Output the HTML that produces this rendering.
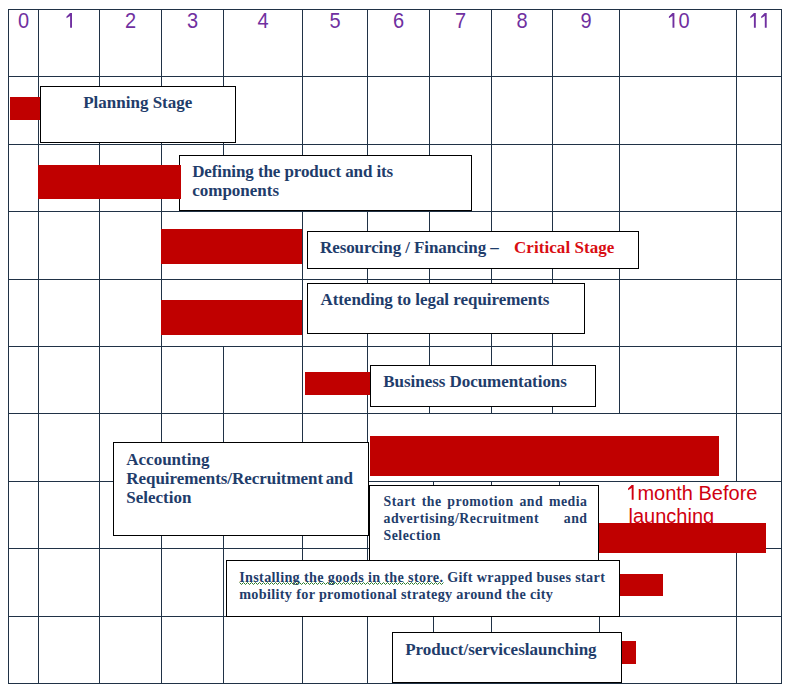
<!DOCTYPE html>
<html><head><meta charset="utf-8"><style>
html,body{margin:0;padding:0;background:#fff;}
body{width:789px;height:691px;position:relative;overflow:hidden;}
div{position:absolute;}
.bx{border:1px solid #000;background:#fff;}
.t{white-space:nowrap;}
.dg{width:60px;text-align:center;font-family:"Liberation Sans",sans-serif;font-size:20px;line-height:20px;color:#7030a0;transform:scaleY(1.07);transform-origin:50% 16.93px;}
.sq{text-decoration:underline wavy #3a9a3a;text-decoration-thickness:1px;text-underline-offset:2px;}
</style></head><body>
<div style="left:8px;top:9px;width:774px;height:1px;background:#203246;"></div>
<div style="left:8px;top:76px;width:774px;height:1px;background:#203246;"></div>
<div style="left:8px;top:144px;width:774px;height:1px;background:#203246;"></div>
<div style="left:8px;top:211px;width:774px;height:1px;background:#203246;"></div>
<div style="left:8px;top:279px;width:774px;height:1px;background:#203246;"></div>
<div style="left:8px;top:346px;width:774px;height:1px;background:#203246;"></div>
<div style="left:8px;top:413px;width:774px;height:1px;background:#203246;"></div>
<div style="left:8px;top:481px;width:774px;height:1px;background:#203246;"></div>
<div style="left:8px;top:548px;width:774px;height:1px;background:#203246;"></div>
<div style="left:8px;top:616px;width:774px;height:1px;background:#203246;"></div>
<div style="left:8px;top:683px;width:774px;height:1px;background:#203246;"></div>
<div style="left:8px;top:9px;width:1px;height:68px;background:#203246;"></div>
<div style="left:38px;top:9px;width:1px;height:68px;background:#203246;"></div>
<div style="left:99px;top:9px;width:1px;height:68px;background:#203246;"></div>
<div style="left:161px;top:9px;width:1px;height:68px;background:#203246;"></div>
<div style="left:223px;top:9px;width:1px;height:68px;background:#203246;"></div>
<div style="left:302px;top:9px;width:1px;height:68px;background:#203246;"></div>
<div style="left:367px;top:9px;width:1px;height:68px;background:#203246;"></div>
<div style="left:429px;top:9px;width:1px;height:68px;background:#203246;"></div>
<div style="left:491px;top:9px;width:1px;height:68px;background:#203246;"></div>
<div style="left:552px;top:9px;width:1px;height:68px;background:#203246;"></div>
<div style="left:619px;top:9px;width:1px;height:68px;background:#203246;"></div>
<div style="left:736px;top:9px;width:1px;height:68px;background:#203246;"></div>
<div style="left:781px;top:9px;width:1px;height:68px;background:#203246;"></div>
<div style="left:8px;top:76px;width:1px;height:69px;background:#203246;"></div>
<div style="left:38px;top:76px;width:1px;height:69px;background:#203246;"></div>
<div style="left:99px;top:76px;width:1px;height:69px;background:#203246;"></div>
<div style="left:161px;top:76px;width:1px;height:69px;background:#203246;"></div>
<div style="left:223px;top:76px;width:1px;height:69px;background:#203246;"></div>
<div style="left:302px;top:76px;width:1px;height:69px;background:#203246;"></div>
<div style="left:367px;top:76px;width:1px;height:69px;background:#203246;"></div>
<div style="left:429px;top:76px;width:1px;height:69px;background:#203246;"></div>
<div style="left:491px;top:76px;width:1px;height:69px;background:#203246;"></div>
<div style="left:552px;top:76px;width:1px;height:69px;background:#203246;"></div>
<div style="left:619px;top:76px;width:1px;height:69px;background:#203246;"></div>
<div style="left:736px;top:76px;width:1px;height:69px;background:#203246;"></div>
<div style="left:781px;top:76px;width:1px;height:69px;background:#203246;"></div>
<div style="left:8px;top:144px;width:1px;height:68px;background:#203246;"></div>
<div style="left:38px;top:144px;width:1px;height:68px;background:#203246;"></div>
<div style="left:99px;top:144px;width:1px;height:68px;background:#203246;"></div>
<div style="left:161px;top:144px;width:1px;height:68px;background:#203246;"></div>
<div style="left:223px;top:144px;width:1px;height:68px;background:#203246;"></div>
<div style="left:302px;top:144px;width:1px;height:68px;background:#203246;"></div>
<div style="left:367px;top:144px;width:1px;height:68px;background:#203246;"></div>
<div style="left:429px;top:144px;width:1px;height:68px;background:#203246;"></div>
<div style="left:491px;top:144px;width:1px;height:68px;background:#203246;"></div>
<div style="left:552px;top:144px;width:1px;height:68px;background:#203246;"></div>
<div style="left:619px;top:144px;width:1px;height:68px;background:#203246;"></div>
<div style="left:736px;top:144px;width:1px;height:68px;background:#203246;"></div>
<div style="left:781px;top:144px;width:1px;height:68px;background:#203246;"></div>
<div style="left:8px;top:211px;width:1px;height:69px;background:#203246;"></div>
<div style="left:38px;top:211px;width:1px;height:69px;background:#203246;"></div>
<div style="left:99px;top:211px;width:1px;height:69px;background:#203246;"></div>
<div style="left:161px;top:211px;width:1px;height:69px;background:#203246;"></div>
<div style="left:302px;top:211px;width:1px;height:69px;background:#203246;"></div>
<div style="left:367px;top:211px;width:1px;height:69px;background:#203246;"></div>
<div style="left:429px;top:211px;width:1px;height:69px;background:#203246;"></div>
<div style="left:491px;top:211px;width:1px;height:69px;background:#203246;"></div>
<div style="left:552px;top:211px;width:1px;height:69px;background:#203246;"></div>
<div style="left:619px;top:211px;width:1px;height:69px;background:#203246;"></div>
<div style="left:736px;top:211px;width:1px;height:69px;background:#203246;"></div>
<div style="left:781px;top:211px;width:1px;height:69px;background:#203246;"></div>
<div style="left:8px;top:279px;width:1px;height:68px;background:#203246;"></div>
<div style="left:38px;top:279px;width:1px;height:68px;background:#203246;"></div>
<div style="left:99px;top:279px;width:1px;height:68px;background:#203246;"></div>
<div style="left:161px;top:279px;width:1px;height:68px;background:#203246;"></div>
<div style="left:302px;top:279px;width:1px;height:68px;background:#203246;"></div>
<div style="left:367px;top:279px;width:1px;height:68px;background:#203246;"></div>
<div style="left:429px;top:279px;width:1px;height:68px;background:#203246;"></div>
<div style="left:491px;top:279px;width:1px;height:68px;background:#203246;"></div>
<div style="left:552px;top:279px;width:1px;height:68px;background:#203246;"></div>
<div style="left:619px;top:279px;width:1px;height:68px;background:#203246;"></div>
<div style="left:736px;top:279px;width:1px;height:68px;background:#203246;"></div>
<div style="left:781px;top:279px;width:1px;height:68px;background:#203246;"></div>
<div style="left:8px;top:346px;width:1px;height:68px;background:#203246;"></div>
<div style="left:38px;top:346px;width:1px;height:68px;background:#203246;"></div>
<div style="left:99px;top:346px;width:1px;height:68px;background:#203246;"></div>
<div style="left:161px;top:346px;width:1px;height:68px;background:#203246;"></div>
<div style="left:223px;top:346px;width:1px;height:68px;background:#203246;"></div>
<div style="left:302px;top:346px;width:1px;height:68px;background:#203246;"></div>
<div style="left:367px;top:346px;width:1px;height:68px;background:#203246;"></div>
<div style="left:429px;top:346px;width:1px;height:68px;background:#203246;"></div>
<div style="left:491px;top:346px;width:1px;height:68px;background:#203246;"></div>
<div style="left:552px;top:346px;width:1px;height:68px;background:#203246;"></div>
<div style="left:619px;top:346px;width:1px;height:68px;background:#203246;"></div>
<div style="left:736px;top:346px;width:1px;height:68px;background:#203246;"></div>
<div style="left:781px;top:346px;width:1px;height:68px;background:#203246;"></div>
<div style="left:8px;top:413px;width:1px;height:69px;background:#203246;"></div>
<div style="left:38px;top:413px;width:1px;height:69px;background:#203246;"></div>
<div style="left:99px;top:413px;width:1px;height:69px;background:#203246;"></div>
<div style="left:161px;top:413px;width:1px;height:69px;background:#203246;"></div>
<div style="left:223px;top:413px;width:1px;height:69px;background:#203246;"></div>
<div style="left:302px;top:413px;width:1px;height:69px;background:#203246;"></div>
<div style="left:367px;top:413px;width:1px;height:69px;background:#203246;"></div>
<div style="left:736px;top:413px;width:1px;height:69px;background:#203246;"></div>
<div style="left:781px;top:413px;width:1px;height:69px;background:#203246;"></div>
<div style="left:8px;top:481px;width:1px;height:68px;background:#203246;"></div>
<div style="left:38px;top:481px;width:1px;height:68px;background:#203246;"></div>
<div style="left:99px;top:481px;width:1px;height:68px;background:#203246;"></div>
<div style="left:161px;top:481px;width:1px;height:68px;background:#203246;"></div>
<div style="left:223px;top:481px;width:1px;height:68px;background:#203246;"></div>
<div style="left:302px;top:481px;width:1px;height:68px;background:#203246;"></div>
<div style="left:367px;top:481px;width:1px;height:68px;background:#203246;"></div>
<div style="left:433px;top:481px;width:1px;height:68px;background:#203246;"></div>
<div style="left:491px;top:481px;width:1px;height:68px;background:#203246;"></div>
<div style="left:559px;top:481px;width:1px;height:68px;background:#203246;"></div>
<div style="left:781px;top:481px;width:1px;height:68px;background:#203246;"></div>
<div style="left:8px;top:548px;width:1px;height:69px;background:#203246;"></div>
<div style="left:38px;top:548px;width:1px;height:69px;background:#203246;"></div>
<div style="left:99px;top:548px;width:1px;height:69px;background:#203246;"></div>
<div style="left:161px;top:548px;width:1px;height:69px;background:#203246;"></div>
<div style="left:223px;top:548px;width:1px;height:69px;background:#203246;"></div>
<div style="left:302px;top:548px;width:1px;height:69px;background:#203246;"></div>
<div style="left:367px;top:548px;width:1px;height:69px;background:#203246;"></div>
<div style="left:736px;top:548px;width:1px;height:69px;background:#203246;"></div>
<div style="left:781px;top:548px;width:1px;height:69px;background:#203246;"></div>
<div style="left:8px;top:616px;width:1px;height:68px;background:#203246;"></div>
<div style="left:38px;top:616px;width:1px;height:68px;background:#203246;"></div>
<div style="left:99px;top:616px;width:1px;height:68px;background:#203246;"></div>
<div style="left:161px;top:616px;width:1px;height:68px;background:#203246;"></div>
<div style="left:223px;top:616px;width:1px;height:68px;background:#203246;"></div>
<div style="left:302px;top:616px;width:1px;height:68px;background:#203246;"></div>
<div style="left:367px;top:616px;width:1px;height:68px;background:#203246;"></div>
<div style="left:433px;top:616px;width:1px;height:68px;background:#203246;"></div>
<div style="left:491px;top:616px;width:1px;height:68px;background:#203246;"></div>
<div style="left:599px;top:616px;width:1px;height:68px;background:#203246;"></div>
<div style="left:736px;top:616px;width:1px;height:68px;background:#203246;"></div>
<div style="left:781px;top:616px;width:1px;height:68px;background:#203246;"></div>
<div class="dg" style="left:-6.5px;top:10.8px;">0</div>
<div class="dg" style="left:100.5px;top:10.8px;">2</div>
<div class="dg" style="left:162.5px;top:10.8px;">3</div>
<div class="dg" style="left:233.0px;top:10.8px;">4</div>
<div class="dg" style="left:305.0px;top:10.8px;">5</div>
<div class="dg" style="left:368.5px;top:10.8px;">6</div>
<div class="dg" style="left:430.5px;top:10.8px;">7</div>
<div class="dg" style="left:492.0px;top:10.8px;">8</div>
<div class="dg" style="left:556.0px;top:10.8px;">9</div>
<div class="dg" style="left:653.05px;top:10.8px;width:auto;text-align:left;left:678.6px;">0</div>
<svg style="position:absolute;left:0;top:0" width="789" height="40"><path d="M72.00,13 V27.8 H70.10 V15.9 L66.50,18.3 V16.6 L70.00,13 Z M674.40,13 V27.8 H672.50 V15.9 L668.90,18.3 V16.6 L672.40,13 Z M755.80,13 V27.8 H753.90 V15.9 L750.30,18.3 V16.6 L753.80,13 Z M766.70,13 V27.8 H764.80 V15.9 L761.20,18.3 V16.6 L764.70,13 Z" fill="#7030a0"/></svg>
<div style="left:10px;top:97px;width:30px;height:23px;background:#c00000;"></div>
<div class="bx" style="left:40px;top:86px;width:194px;height:55px;"></div>
<div class="bx" style="left:179px;top:155px;width:291px;height:54px;"></div>
<div style="left:38px;top:165px;width:143px;height:34px;background:#c00000;"></div>
<div style="left:161px;top:229px;width:141px;height:35px;background:#c00000;"></div>
<div class="bx" style="left:307px;top:231px;width:330px;height:36px;"></div>
<div style="left:161px;top:300px;width:141px;height:35px;background:#c00000;"></div>
<div class="bx" style="left:307px;top:283px;width:276px;height:49px;"></div>
<div style="left:305px;top:372px;width:65px;height:23px;background:#c00000;"></div>
<div class="bx" style="left:370px;top:365px;width:224px;height:40px;"></div>
<div style="left:370px;top:436.3px;width:348.5px;height:39.69999999999999px;background:#c00000;"></div>
<div class="bx" style="left:113px;top:442px;width:254px;height:92px;"></div>
<div style="left:599px;top:522.5px;width:167px;height:30.799999999999955px;background:#c00000;"></div>
<div class="bx" style="left:369px;top:485px;width:228px;height:74px;"></div>
<div style="left:619px;top:574px;width:44px;height:22px;background:#c00000;"></div>
<div class="bx" style="left:226px;top:560px;width:392px;height:55px;"></div>
<div style="left:621px;top:641px;width:15px;height:23px;background:#c00000;"></div>
<div class="bx" style="left:392px;top:632px;width:228px;height:49px;"></div>
<div class="t" style="left:83.2px;top:93.06px;font-size:17px;line-height:19px;color:#1f3d6b;font-family:'Liberation Serif',serif;font-weight:bold;">Planning Stage</div>
<div class="t" style="left:192.2px;top:161.56px;font-size:17px;line-height:19px;color:#1f3d6b;font-family:'Liberation Serif',serif;font-weight:bold;letter-spacing:-0.1px;">Defining the product and its</div>
<div class="t" style="left:192.2px;top:180.66px;font-size:17px;line-height:19px;color:#1f3d6b;font-family:'Liberation Serif',serif;font-weight:bold;">components</div>
<div class="t" style="left:320.0px;top:237.76px;font-size:17px;line-height:19px;color:#1f3d6b;font-family:'Liberation Serif',serif;font-weight:bold;letter-spacing:-0.08px;">Resourcing / Financing –</div>
<div class="t" style="left:514.0px;top:237.76px;font-size:17px;line-height:19px;color:#d90d12;font-family:'Liberation Serif',serif;font-weight:bold;letter-spacing:0.06px;">Critical Stage</div>
<div class="t" style="left:320.4px;top:290.16px;font-size:17px;line-height:19px;color:#1f3d6b;font-family:'Liberation Serif',serif;font-weight:bold;letter-spacing:-0.04px;">Attending to legal requirements</div>
<div class="t" style="left:383.3px;top:372.46px;font-size:17px;line-height:19px;color:#1f3d6b;font-family:'Liberation Serif',serif;font-weight:bold;letter-spacing:-0.05px;">Business Documentations</div>
<div class="t" style="left:126.3px;top:450.46px;font-size:17px;line-height:19px;color:#1f3d6b;font-family:'Liberation Serif',serif;font-weight:bold;">Accounting</div>
<div class="t" style="left:126.3px;top:469.46px;font-size:17px;line-height:19px;color:#1f3d6b;font-family:'Liberation Serif',serif;font-weight:bold;word-spacing:-1.6px;letter-spacing:-0.05px;">Requirements/Recruitment and</div>
<div class="t" style="left:126.3px;top:488.26px;font-size:17px;line-height:19px;color:#1f3d6b;font-family:'Liberation Serif',serif;font-weight:bold;">Selection</div>
<div class="t" style="left:383.5px;top:493.14px;font-size:13.8px;line-height:17px;color:#1f3d6b;font-family:'Liberation Serif',serif;font-weight:bold;width:204px;text-align:justify;text-align-last:justify;letter-spacing:0.5px;">Start the promotion and media</div>
<div class="t" style="left:383.5px;top:510.04px;font-size:13.8px;line-height:17px;color:#1f3d6b;font-family:'Liberation Serif',serif;font-weight:bold;width:204px;text-align:justify;text-align-last:justify;letter-spacing:0.5px;">advertising/Recruitment and</div>
<div class="t" style="left:383.5px;top:526.84px;font-size:13.8px;line-height:17px;color:#1f3d6b;font-family:'Liberation Serif',serif;font-weight:bold;letter-spacing:0.5px;">Selection</div>
<div class="t" style="left:239.2px;top:569.11px;font-size:14.2px;line-height:17px;color:#1f3d6b;font-family:'Liberation Serif',serif;font-weight:bold;letter-spacing:0.33px;">Installing the goods in the store. Gift wrapped buses start</div>
<div class="t" style="left:239.2px;top:586.31px;font-size:14.2px;line-height:17px;color:#1f3d6b;font-family:'Liberation Serif',serif;font-weight:bold;letter-spacing:0.33px;">mobility for promotional strategy around the city</div>
<svg style="position:absolute;left:239px;top:582px;" width="208" height="4"><polyline points="0.5,0.5 2.5,2.5 4.5,0.5 6.5,2.5 8.5,0.5 10.5,2.5 12.5,0.5 14.5,2.5 16.5,0.5 18.5,2.5 20.5,0.5 22.5,2.5 24.5,0.5 26.5,2.5 28.5,0.5 30.5,2.5 32.5,0.5 34.5,2.5 36.5,0.5 38.5,2.5 40.5,0.5 42.5,2.5 44.5,0.5 46.5,2.5 48.5,0.5 50.5,2.5 52.5,0.5 54.5,2.5 56.5,0.5 58.5,2.5 60.5,0.5 62.5,2.5 64.5,0.5 66.5,2.5 68.5,0.5 70.5,2.5 72.5,0.5 74.5,2.5 76.5,0.5 78.5,2.5 80.5,0.5 82.5,2.5 84.5,0.5 86.5,2.5 88.5,0.5 90.5,2.5 92.5,0.5 94.5,2.5 96.5,0.5 98.5,2.5 100.5,0.5 102.5,2.5 104.5,0.5 106.5,2.5 108.5,0.5 110.5,2.5 112.5,0.5 114.5,2.5 116.5,0.5 118.5,2.5 120.5,0.5 122.5,2.5 124.5,0.5 126.5,2.5 128.5,0.5 130.5,2.5 132.5,0.5 134.5,2.5 136.5,0.5 138.5,2.5 140.5,0.5 142.5,2.5 144.5,0.5 146.5,2.5 148.5,0.5 150.5,2.5 152.5,0.5 154.5,2.5 156.5,0.5 158.5,2.5 160.5,0.5 162.5,2.5 164.5,0.5 166.5,2.5 168.5,0.5 170.5,2.5 172.5,0.5 174.5,2.5 176.5,0.5 178.5,2.5 180.5,0.5 182.5,2.5 184.5,0.5 186.5,2.5 188.5,0.5 190.5,2.5 192.5,0.5 194.5,2.5 196.5,0.5 198.5,2.5 200.5,0.5 202.5,2.5 204.5,0.5" fill="none" stroke="#2a7a2a" stroke-width="1"/></svg>
<div class="t" style="left:405.2px;top:640.46px;font-size:17px;line-height:19px;color:#1f3d6b;font-family:'Liberation Serif',serif;font-weight:bold;">Product/serviceslaunching</div>
<div class="t" style="left:637.4px;top:481.57px;font-size:20px;line-height:23px;color:#d0000f;font-family:'Liberation Sans',sans-serif;font-weight:normal;">month Before</div>
<div class="t" style="left:628.5px;top:504.57px;font-size:20px;line-height:23px;color:#d0000f;font-family:'Liberation Sans',sans-serif;font-weight:normal;">launching</div>
<svg style="position:absolute;left:0;top:0" width="789" height="691"><path d="M633.60,485 V499.7 H631.70 V487.9 L628.10,490.3 V488.6 L631.60,485 Z" fill="#d0000f"/></svg>
<div style="left:599px;top:522.5px;width:167px;height:30.799999999999955px;background:#c00000;"></div>
</body></html>
